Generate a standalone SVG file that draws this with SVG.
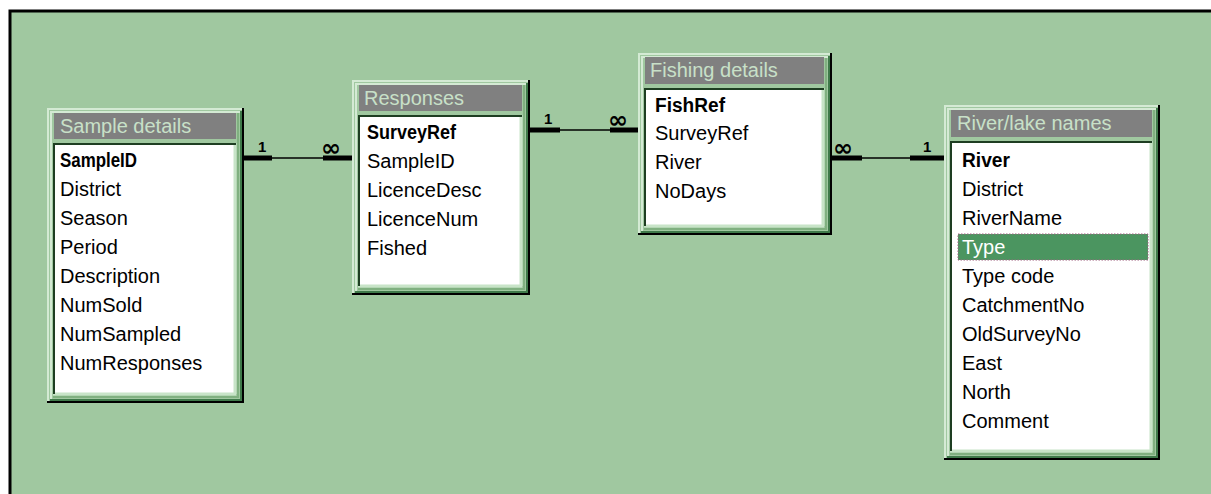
<svg xmlns="http://www.w3.org/2000/svg" width="1211" height="494" viewBox="0 0 1211 494">
<style>
.bg{fill:#a0c8a0}
.frame{fill:#a0c8a0}
.hl{fill:none;stroke:#d4ead4;stroke-width:2}
.mid{fill:none;stroke:#80b080;stroke-width:2}
.sh{fill:none;stroke:#000;stroke-width:2}
.sh2{fill:none;stroke:#3f7a4a;stroke-width:2}
.title{fill:#808080}
.tt{font-family:"Liberation Sans",Arial,sans-serif;font-size:20px;fill:#c8e0c8}
.box{fill:#fff}
.bdark{fill:none;stroke:#1e3e22;stroke-width:2}
.blight{fill:none;stroke:#c8e4c8;stroke-width:3}
.f{font-family:"Liberation Sans",Arial,sans-serif;font-size:20px;fill:#000}
.k{font-family:"Liberation Sans",Arial,sans-serif;font-size:20px;font-weight:bold;fill:#000}
.thick{stroke:#000;stroke-width:5}
.thin{stroke:#000;stroke-width:1.5}
.lbl{font-family:"Liberation Sans",Arial,sans-serif;font-size:15px;font-weight:bold;fill:#000}
.inf{font-family:"DejaVu Sans",sans-serif;font-size:24px;font-weight:bold;fill:#000}
</style>
<rect x="0" y="0" width="1211" height="494" fill="#ffffff"/>
<rect x="9" y="10" width="1202" height="484" class="bg"/>
<path d="M10 494 V11 H1211" fill="none" stroke="#000" stroke-width="3"/>

<g id="connectors">
  <line x1="244" y1="158" x2="272" y2="158" class="thick"/>
  <line x1="272" y1="158" x2="323" y2="158" class="thin"/>
  <line x1="323" y1="158" x2="352" y2="158" class="thick"/>
  <text x="258" y="152" class="lbl">1</text>
  <text x="321" y="156" class="inf">∞</text>

  <line x1="530" y1="130" x2="560" y2="130" class="thick"/>
  <line x1="560" y1="130" x2="610" y2="130" class="thin"/>
  <line x1="610" y1="130" x2="638" y2="130" class="thick"/>
  <text x="544" y="124" class="lbl">1</text>
  <text x="608" y="128" class="inf">∞</text>

  <line x1="832" y1="158" x2="862" y2="158" class="thick"/>
  <line x1="862" y1="158" x2="910" y2="158" class="thin"/>
  <line x1="910" y1="158" x2="944" y2="158" class="thick"/>
  <text x="833" y="156" class="inf">∞</text>
  <text x="923" y="152" class="lbl">1</text>
</g>

<g id="sample-details">
  <rect x="47" y="108" width="197" height="295" class="frame"/>
  <path d="M48 402 V109 H243" class="hl"/>
  <path d="M51 399 V112 H240" class="hl"/>
  <path d="M243 108 V402 H47" class="sh"/>
  <path d="M241 111 V400 H50" class="sh2"/>
  <path d="M238 113 V397 H53" class="mid"/>
  <rect x="54" y="113" width="182" height="26" class="title"/>
  <text x="60" y="133" class="tt">Sample details</text>
  <rect x="53" y="143" width="183" height="251" class="box"/>
  <path d="M236 394 H53" class="blight"/>
  <path d="M235 143 V394" class="blight"/>
  <path d="M54 394 V144 H236" class="bdark"/>
  <text x="60" y="167" class="k" textLength="77" lengthAdjust="spacingAndGlyphs">SampleID</text>
  <text x="60" y="196" class="f">District</text>
  <text x="60" y="225" class="f">Season</text>
  <text x="60" y="254" class="f">Period</text>
  <text x="60" y="283" class="f">Description</text>
  <text x="60" y="312" class="f">NumSold</text>
  <text x="60" y="341" class="f">NumSampled</text>
  <text x="60" y="370" class="f">NumResponses</text>
</g>

<g id="responses">
  <rect x="352" y="80" width="178" height="215" class="frame"/>
  <path d="M353 294 V81 H529" class="hl"/>
  <path d="M356 291 V84 H526" class="hl"/>
  <path d="M529 80 V294 H352" class="sh"/>
  <path d="M527 83 V292 H355" class="sh2"/>
  <path d="M524 85 V289 H358" class="mid"/>
  <rect x="359" y="85" width="163" height="26" class="title"/>
  <text x="364" y="105" class="tt">Responses</text>
  <rect x="358" y="115" width="164" height="171" class="box"/>
  <path d="M522 286 H358" class="blight"/>
  <path d="M521 115 V286" class="blight"/>
  <path d="M359 286 V116 H522" class="bdark"/>
  <text x="367" y="139" class="k" textLength="89" lengthAdjust="spacingAndGlyphs">SurveyRef</text>
  <text x="367" y="168" class="f">SampleID</text>
  <text x="367" y="197" class="f">LicenceDesc</text>
  <text x="367" y="226" class="f">LicenceNum</text>
  <text x="367" y="255" class="f">Fished</text>
</g>

<g id="fishing-details">
  <rect x="638" y="53" width="194" height="182" class="frame"/>
  <path d="M639 234 V54 H831" class="hl"/>
  <path d="M642 231 V57 H828" class="hl"/>
  <path d="M831 53 V234 H638" class="sh"/>
  <path d="M829 56 V232 H641" class="sh2"/>
  <path d="M826 58 V229 H644" class="mid"/>
  <rect x="645" y="57" width="179" height="27" class="title"/>
  <text x="650" y="77" class="tt">Fishing details</text>
  <rect x="644" y="88" width="180" height="138" class="box"/>
  <path d="M824 226 H644" class="blight"/>
  <path d="M823 88 V226" class="blight"/>
  <path d="M645 226 V89 H824" class="bdark"/>
  <text x="655" y="112" class="k" textLength="70" lengthAdjust="spacingAndGlyphs">FishRef</text>
  <text x="655" y="140" class="f">SurveyRef</text>
  <text x="655" y="169" class="f">River</text>
  <text x="655" y="198" class="f">NoDays</text>
</g>

<g id="river-lake-names">
  <rect x="944" y="105" width="216" height="355" class="frame"/>
  <path d="M945 459 V106 H1159" class="hl"/>
  <path d="M948 456 V109 H1156" class="hl"/>
  <path d="M1159 105 V459 H944" class="sh"/>
  <path d="M1157 108 V457 H947" class="sh2"/>
  <path d="M1154 110 V454 H950" class="mid"/>
  <rect x="951" y="110" width="201" height="27" class="title"/>
  <text x="957" y="130" class="tt">River/lake names</text>
  <rect x="950" y="141" width="202" height="310" class="box"/>
  <path d="M1152 451 H950" class="blight"/>
  <path d="M1151 141 V451" class="blight"/>
  <path d="M951 451 V142 H1152" class="bdark"/>
  <rect x="958" y="234" width="190" height="26" fill="#4b9560" stroke="#a06080" stroke-width="1" stroke-dasharray="1.5 1.5"/>
  <text x="962" y="167" class="k" textLength="48" lengthAdjust="spacingAndGlyphs">River</text>
  <text x="962" y="196" class="f">District</text>
  <text x="962" y="225" class="f">RiverName</text>
  <text x="962" y="254" class="f" style="fill:#ffffff">Type</text>
  <text x="962" y="283" class="f">Type code</text>
  <text x="962" y="312" class="f">CatchmentNo</text>
  <text x="962" y="341" class="f">OldSurveyNo</text>
  <text x="962" y="370" class="f">East</text>
  <text x="962" y="399" class="f">North</text>
  <text x="962" y="428" class="f">Comment</text>
</g>
</svg>
